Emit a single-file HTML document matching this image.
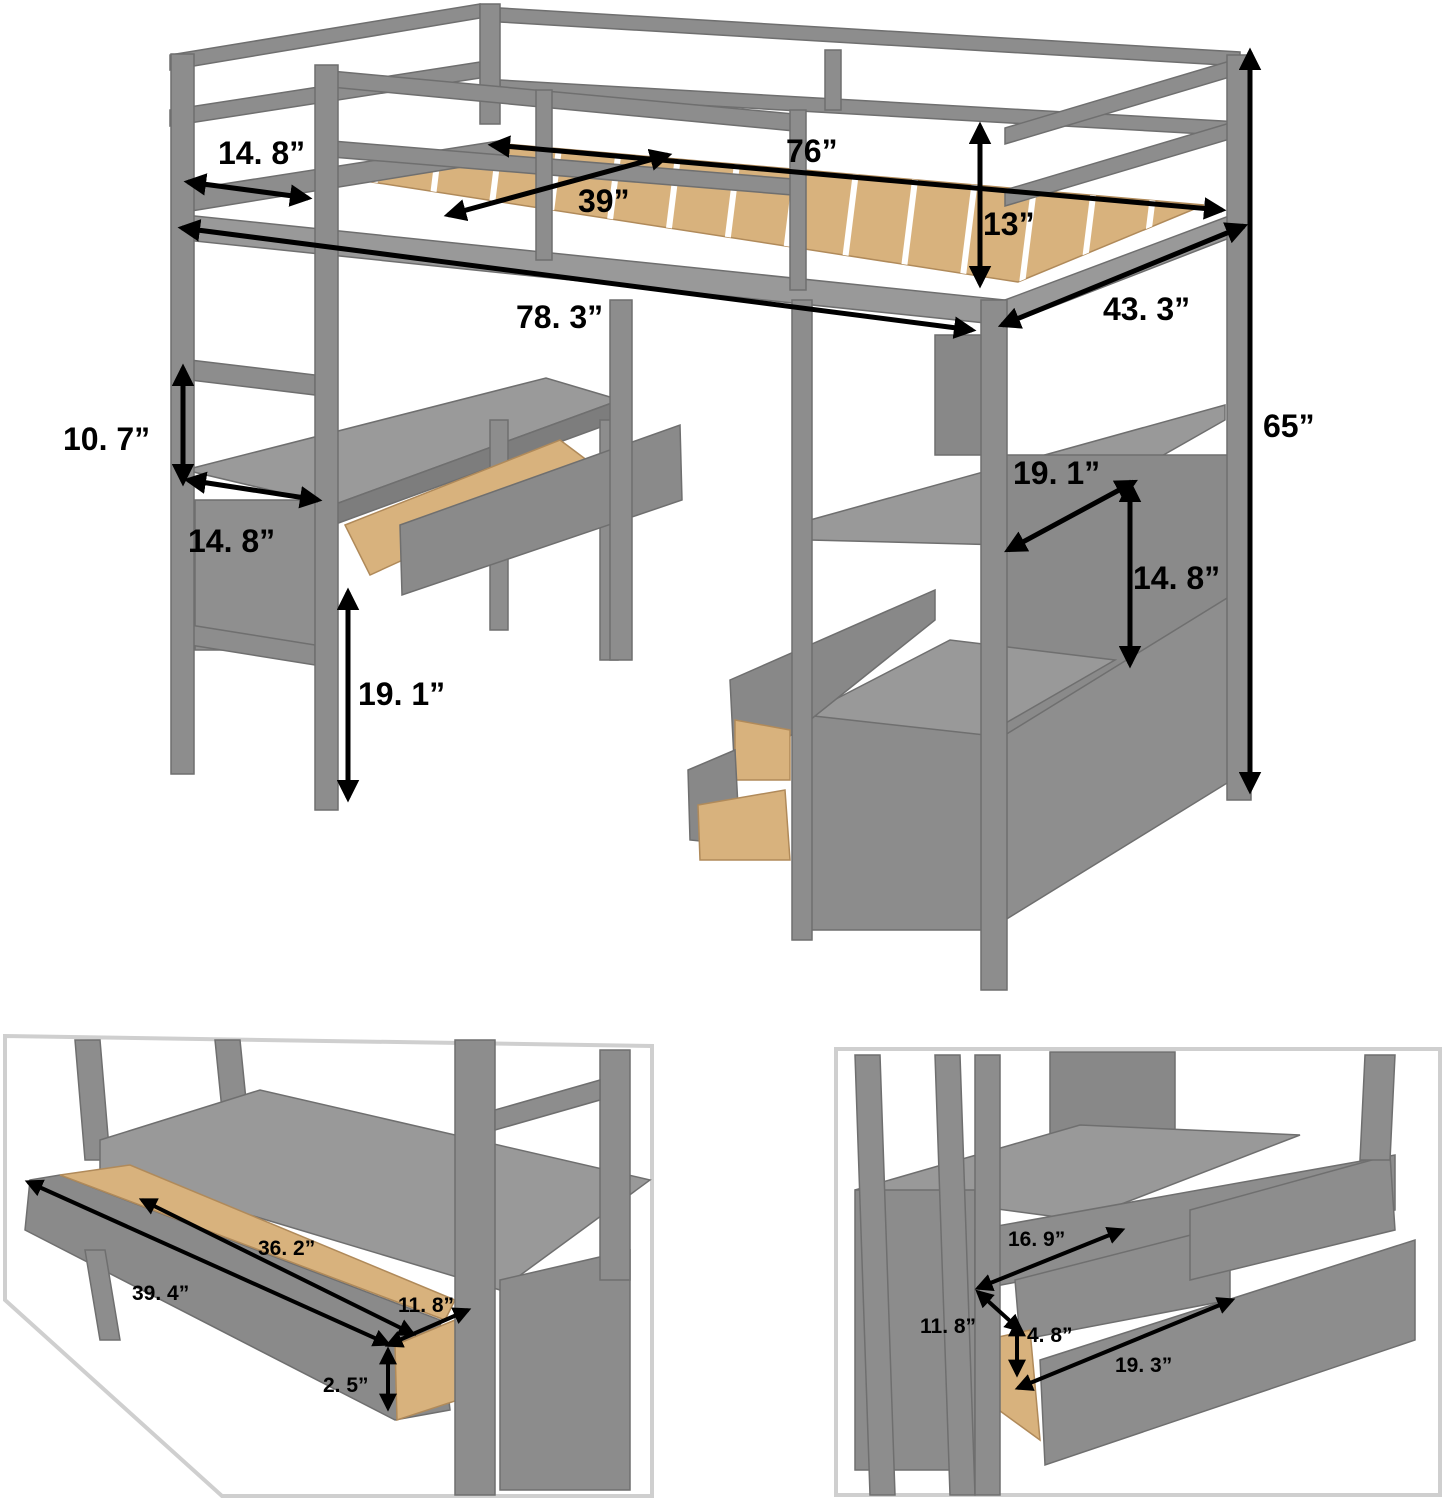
<!DOCTYPE html>
<html><head><meta charset="utf-8"><style>
html,body{margin:0;padding:0;background:#fff}
svg{display:block}
text{font-family:"Liberation Sans",sans-serif;font-weight:bold;fill:#000}
</style></head><body>
<svg width="1444" height="1500" viewBox="0 0 1444 1500" xmlns="http://www.w3.org/2000/svg">
<defs>
<marker id="a" viewBox="0 0 10 10" refX="8" refY="5" markerWidth="4.5" markerHeight="4.5" orient="auto-start-reverse"><path d="M0,0 L10,5 L0,10 z" fill="#000"/></marker>
<clipPath id="sl"><polygon points="333,176 505,144 1204,205 1018,282"/></clipPath>
</defs>
<g stroke="#6f6f6f" stroke-width="1.5" fill="#8d8d8d">
<polygon points="500,8 1240,52 1240,66 500,22"/>
<polygon points="500,80 1240,122 1240,136 500,94"/>
<polygon points="170,55 480,4 480,18 170,70"/>
<polygon points="170,110 480,62 480,78 170,126"/>
<rect x="480" y="4" width="20" height="120"/>
<rect x="825" y="50" width="16" height="60"/>
<polygon points="333,176 505,144 1204,205 1018,282" fill="#d8b27d" stroke="#b08a5a"/>
<g clip-path="url(#sl)" stroke="#fff" stroke-width="6">
<line x1="380" y1="140" x2="360" y2="300"/><line x1="440" y1="140" x2="420" y2="300"/>
<line x1="500" y1="140" x2="480" y2="300"/><line x1="560" y1="140" x2="540" y2="300"/>
<line x1="620" y1="140" x2="600" y2="300"/><line x1="680" y1="140" x2="660" y2="300"/>
<line x1="740" y1="140" x2="720" y2="300"/><line x1="800" y1="140" x2="780" y2="300"/>
<line x1="860" y1="140" x2="840" y2="300"/><line x1="920" y1="140" x2="900" y2="300"/>
<line x1="980" y1="140" x2="960" y2="300"/><line x1="1040" y1="140" x2="1020" y2="300"/>
<line x1="1100" y1="140" x2="1080" y2="300"/><line x1="1160" y1="140" x2="1140" y2="300"/>
</g>
<polygon points="185,190 505,140 505,160 185,212" />
<polygon points="185,215 1005,300 1005,325 185,240" fill="#999"/>
<polygon points="1005,300 1245,210 1245,232 1005,325" fill="#999"/>
<polygon points="320,70 805,115 805,132 320,86"/>
<polygon points="320,140 805,180 805,196 320,156"/>
<rect x="536" y="90" width="16" height="170"/>
<rect x="790" y="110" width="16" height="180"/>
<polygon points="1005,128 1240,58 1240,74 1005,144"/>
<polygon points="1005,190 1240,120 1240,136 1005,206"/>
<polygon points="185,470 546,378 620,400 333,505" fill="#9a9a9a"/>
<polygon points="333,505 620,400 620,420 333,525" fill="#7d7d7d"/>
<rect x="490" y="420" width="18" height="210"/>
<rect x="600" y="420" width="18" height="240"/>
<polygon points="345,525 560,440 600,470 370,575" fill="#d8b27d" stroke="#b08a5a"/>
<polygon points="400,525 680,425 682,500 402,595" fill="#8a8a8a"/>
<rect x="195" y="500" width="130" height="150" fill="#8f8f8f"/>
<polygon points="190,360 315,375 315,395 190,380"/>
<polygon points="190,625 315,645 315,665 190,645"/>
<rect x="171" y="54" width="23" height="720"/>
<rect x="315" y="65" width="23" height="745"/>
<rect x="610" y="300" width="22" height="360"/>
<rect x="935" y="335" width="70" height="120" fill="#888"/>
<polygon points="810,520 1225,405 1225,420 1005,545 810,540" fill="#999"/>
<rect x="1005" y="455" width="225" height="300" fill="#8a8a8a"/>
<polygon points="1005,735 1232,595 1232,780 1005,920" fill="#8e8e8e"/>
<rect x="805" y="715" width="180" height="215" fill="#8c8c8c"/>
<polygon points="805,715 950,640 1115,660 985,735" fill="#999"/>
<polygon points="730,680 935,590 935,620 735,780" fill="#888"/>
<polygon points="735,720 790,730 790,780 735,780" fill="#d8b27d" stroke="#b08a5a"/>
<polygon points="688,770 735,750 740,845 690,840" fill="#888"/>
<polygon points="698,805 785,790 790,860 700,860" fill="#d8b27d" stroke="#b08a5a"/>
<rect x="792" y="300" width="20" height="640"/>
<rect x="981" y="300" width="26" height="690"/>
<rect x="1227" y="55" width="24" height="745"/>
</g>
<g stroke="#000" stroke-width="5" marker-start="url(#a)" marker-end="url(#a)">
<line x1="188" y1="182" x2="308" y2="198"/>
<line x1="492" y1="145" x2="1222" y2="210"/>
<line x1="448" y1="215" x2="668" y2="155"/>
<line x1="980" y1="126" x2="980" y2="284"/>
<line x1="182" y1="228" x2="972" y2="330"/>
<line x1="1002" y1="325" x2="1244" y2="226"/>
<line x1="1250" y1="52" x2="1250" y2="790"/>
<line x1="183" y1="368" x2="183" y2="482"/>
<line x1="188" y1="480" x2="318" y2="500"/>
<line x1="1008" y1="550" x2="1134" y2="482"/>
<line x1="1130" y1="484" x2="1130" y2="664"/>
<line x1="348" y1="592" x2="348" y2="798"/>
</g>
<g font-size="32">
<text x="218" y="164">14. 8”</text>
<text x="786" y="162">76”</text>
<text x="578" y="212">39”</text>
<text x="983" y="235">13”</text>
<text x="516" y="328">78. 3”</text>
<text x="1103" y="320">43. 3”</text>
<text x="1263" y="437">65”</text>
<text x="63" y="450">10. 7”</text>
<text x="188" y="552">14. 8”</text>
<text x="1013" y="484">19. 1”</text>
<text x="1133" y="589">14. 8”</text>
<text x="358" y="705">19. 1”</text>
</g>
<polygon points="5,1036 652,1046 652,1496 222,1496 5,1300" fill="#fff" stroke="#cfcfcf" stroke-width="4"/>
<g stroke="#6f6f6f" stroke-width="1.5" fill="#8d8d8d">
<polygon points="75,1040 100,1040 110,1160 85,1160"/>
<polygon points="215,1040 240,1040 250,1140 225,1140"/>
<polygon points="100,1140 260,1090 650,1180 500,1290 100,1170" fill="#999"/>
<polygon points="30,1180 60,1175 440,1320 450,1410 395,1420 25,1230" fill="#8a8a8a"/>
<polygon points="60,1175 130,1165 455,1300 445,1320" fill="#d8b27d" stroke="#b08a5a"/>
<polygon points="395,1345 455,1320 458,1400 397,1420" fill="#d8b27d" stroke="#b08a5a"/>
<polygon points="500,1280 630,1250 630,1490 500,1490" fill="#8c8c8c"/>
<rect x="455" y="1040" width="40" height="455"/>
<rect x="600" y="1050" width="30" height="230"/>
<polygon points="495,1110 600,1080 600,1100 495,1130"/>
<polygon points="85,1250 105,1250 120,1340 100,1340"/>
</g>
<g stroke="#000" stroke-width="4" marker-start="url(#a)" marker-end="url(#a)">
<line x1="142" y1="1200" x2="413" y2="1334"/>
<line x1="28" y1="1182" x2="388" y2="1344"/>
<line x1="388" y1="1345" x2="468" y2="1310"/>
<line x1="388" y1="1350" x2="388" y2="1408"/>
</g>
<g font-size="21">
<text x="258" y="1255">36. 2”</text>
<text x="132" y="1300">39. 4”</text>
<text x="398" y="1312">11. 8”</text>
<text x="323" y="1392">2. 5”</text>
</g>
<rect x="836" y="1049" width="604" height="446" fill="#fff" stroke="#cfcfcf" stroke-width="4"/>
<g stroke="#6f6f6f" stroke-width="1.5" fill="#8d8d8d">
<rect x="1050" y="1052" width="125" height="110" fill="#888"/>
<polygon points="855,1190 1080,1125 1300,1135 1080,1220" fill="#999"/>
<rect x="855" y="1190" width="120" height="280" fill="#8c8c8c"/>
<polygon points="975,1230 1395,1155 1395,1210 975,1290"/>
<polygon points="1015,1280 1230,1225 1230,1300 1020,1340"/>
<polygon points="1190,1210 1390,1155 1395,1230 1190,1280"/>
<polygon points="985,1340 1030,1330 1040,1440 985,1400" fill="#d8b27d" stroke="#b08a5a"/>
<polygon points="1040,1360 1415,1240 1415,1340 1045,1465"/>
<polygon points="855,1055 880,1055 895,1495 870,1495"/>
<polygon points="935,1055 960,1055 975,1495 950,1495"/>
<polygon points="1365,1055 1395,1055 1390,1160 1360,1160"/>
<rect x="975" y="1055" width="25" height="440"/>
</g>
<g stroke="#000" stroke-width="4" marker-start="url(#a)" marker-end="url(#a)">
<line x1="978" y1="1288" x2="1122" y2="1230"/>
<line x1="978" y1="1292" x2="1020" y2="1330"/>
<line x1="1017" y1="1322" x2="1017" y2="1374"/>
<line x1="1018" y1="1388" x2="1232" y2="1300"/>
</g>
<g font-size="21">
<text x="1008" y="1246">16. 9”</text>
<text x="920" y="1333">11. 8”</text>
<text x="1027" y="1342">4. 8”</text>
<text x="1115" y="1372">19. 3”</text>
</g>
</svg>
</body></html>
